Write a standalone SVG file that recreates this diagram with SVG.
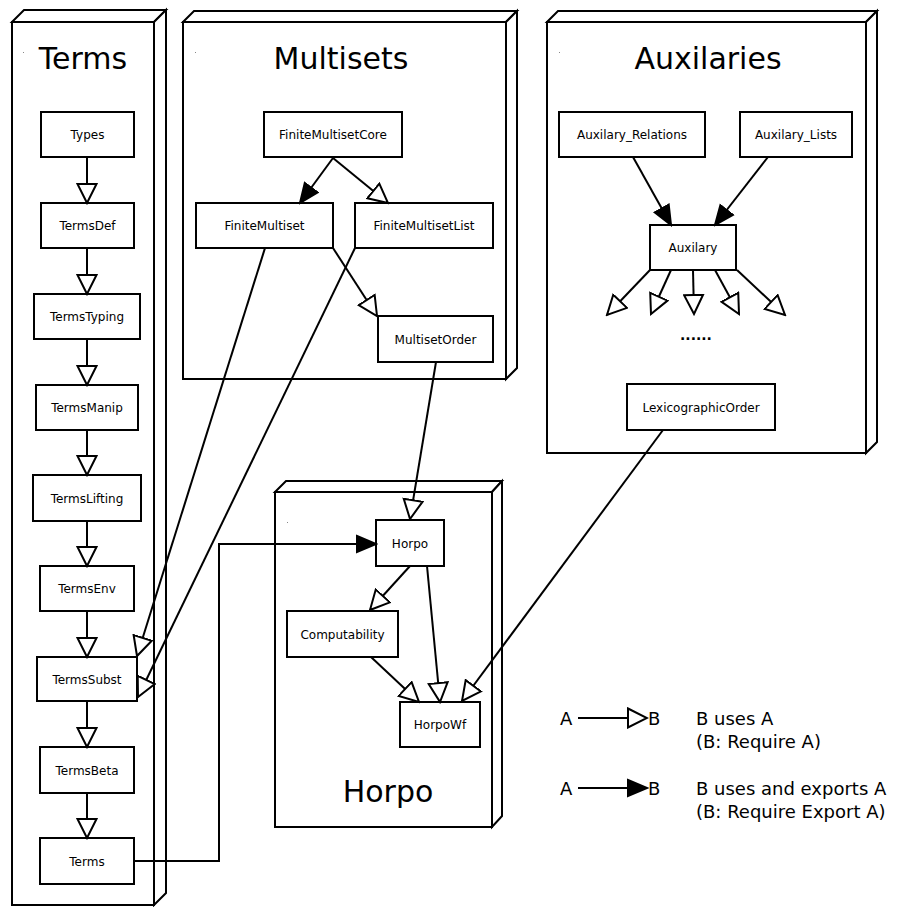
<svg xmlns="http://www.w3.org/2000/svg" width="898" height="907" viewBox="0 0 898 907">
<style>
.pkg{fill:#fff;stroke:#000;stroke-width:2;stroke-linejoin:miter}
.box{fill:#fff;stroke:#000;stroke-width:2}
.lbl{font-family:"DejaVu Sans",sans-serif;font-size:12px;text-anchor:middle;fill:#000}
.ttl{font-family:"DejaVu Sans",sans-serif;font-size:30px;text-anchor:middle;fill:#000}
.leg{font-family:"DejaVu Sans",sans-serif;font-size:18px;fill:#000}
.e{fill:none;stroke:#000;stroke-width:2}
.u{marker-end:url(#open)}
.x{marker-end:url(#fill)}
</style>
<defs>
<marker id="open" markerUnits="userSpaceOnUse" viewBox="0 0 22 22" markerWidth="22" markerHeight="22" refX="20" refY="11" orient="auto">
<path d="M1,1.5 L20,11 L1,20.5 Z" fill="#fff" stroke="#000" stroke-width="2"/>
</marker>
<marker id="fill" markerUnits="userSpaceOnUse" viewBox="0 0 22 22" markerWidth="22" markerHeight="22" refX="20" refY="11" orient="auto">
<path d="M1,3 L20,11 L1,19 Z" fill="#000" stroke="#000" stroke-width="2"/>
</marker>
</defs>
<rect width="898" height="907" fill="#fff"/>

<g id="pkg-terms">
<path class="pkg" d="M12,22 L24,10 L166,10 L154,22 Z"/>
<path class="pkg" d="M154,22 L166,10 L166,893 L154,905 Z"/>
<rect class="pkg" x="12" y="22" width="142" height="883"/>
<rect x="23" y="52" width="1" height="1" fill="#888"/>
<text class="ttl" x="83" y="69">Terms</text>
</g>
<g id="pkg-multisets">
<path class="pkg" d="M183,22 L194,11 L517,11 L506,22 Z"/>
<path class="pkg" d="M506,22 L517,11 L517,368 L506,379 Z"/>
<rect class="pkg" x="183" y="22" width="323" height="357"/>
<rect x="195" y="52" width="1" height="1" fill="#888"/>
<text class="ttl" x="341" y="69">Multisets</text>
</g>
<g id="pkg-auxilaries">
<path class="pkg" d="M547,22 L558,11 L877,11 L866,22 Z"/>
<path class="pkg" d="M866,22 L877,11 L877,442 L866,453 Z"/>
<rect class="pkg" x="547" y="22" width="319" height="431"/>
<rect x="559" y="52" width="1" height="1" fill="#888"/>
<text class="ttl" x="708" y="69">Auxilaries</text>
</g>
<g id="pkg-horpo">
<path class="pkg" d="M275,492 L286,481 L502,481 L492,492 Z"/>
<path class="pkg" d="M492,492 L502,481 L502,816 L492,827 Z"/>
<rect class="pkg" x="275" y="492" width="217" height="335"/>
<rect x="287" y="522" width="1" height="1" fill="#888"/>
<text class="ttl" x="388" y="802">Horpo</text>
</g>

<g id="n-types"><rect class="box" x="41" y="112" width="93" height="45"/><text class="lbl" x="87.5" y="139">Types</text></g>
<g id="n-termsdef"><rect class="box" x="41" y="203" width="93" height="45"/><text class="lbl" x="87.5" y="230">TermsDef</text></g>
<g id="n-termstyping"><rect class="box" x="34" y="294" width="106" height="45"/><text class="lbl" x="87" y="321">TermsTyping</text></g>
<g id="n-termsmanip"><rect class="box" x="36" y="385" width="102" height="45"/><text class="lbl" x="87" y="412">TermsManip</text></g>
<g id="n-termslifting"><rect class="box" x="33" y="475" width="108" height="46"/><text class="lbl" x="87" y="502.5">TermsLifting</text></g>
<g id="n-termsenv"><rect class="box" x="40" y="566" width="94" height="45"/><text class="lbl" x="87" y="593">TermsEnv</text></g>
<g id="n-termssubst"><rect class="box" x="37" y="657" width="100" height="44"/><text class="lbl" x="87" y="683.5">TermsSubst</text></g>
<g id="n-termsbeta"><rect class="box" x="40" y="747" width="94" height="46"/><text class="lbl" x="87" y="774.5">TermsBeta</text></g>
<g id="n-terms"><rect class="box" x="40" y="838" width="94" height="46"/><text class="lbl" x="87" y="865.5">Terms</text></g>

<g id="n-fmcore"><rect class="box" x="264" y="112" width="138" height="45"/><text class="lbl" x="333" y="139">FiniteMultisetCore</text></g>
<g id="n-fm"><rect class="box" x="196" y="203" width="137" height="45"/><text class="lbl" x="264.5" y="230">FiniteMultiset</text></g>
<g id="n-fmlist"><rect class="box" x="355" y="203" width="138" height="45"/><text class="lbl" x="424" y="230">FiniteMultisetList</text></g>
<g id="n-msorder"><rect class="box" x="378" y="316" width="115" height="46"/><text class="lbl" x="435.5" y="343.5">MultisetOrder</text></g>

<g id="n-auxrel"><rect class="box" x="559" y="112" width="146" height="45"/><text class="lbl" x="632" y="139">Auxilary_Relations</text></g>
<g id="n-auxlists"><rect class="box" x="740" y="112" width="112" height="45"/><text class="lbl" x="796" y="139">Auxilary_Lists</text></g>
<g id="n-aux"><rect class="box" x="650" y="225" width="86" height="45"/><text class="lbl" x="693" y="252">Auxilary</text></g>
<g id="n-lex"><rect class="box" x="627" y="384" width="148" height="46"/><text class="lbl" x="701" y="411.5">LexicographicOrder</text></g>

<g id="n-horpo"><rect class="box" x="376" y="520" width="68" height="46"/><text class="lbl" x="410" y="547.5">Horpo</text></g>
<g id="n-comp"><rect class="box" x="287" y="611" width="111" height="46"/><text class="lbl" x="342.5" y="638.5">Computability</text></g>
<g id="n-horpowf"><rect class="box" x="400" y="702" width="80" height="45"/><text class="lbl" x="440" y="729">HorpoWf</text></g>

<g id="connectors">
<line class="e u" x1="87" y1="157" x2="87" y2="203"/>
<line class="e u" x1="87" y1="248" x2="87" y2="294"/>
<line class="e u" x1="87" y1="339" x2="87" y2="385"/>
<line class="e u" x1="87" y1="430" x2="87" y2="475"/>
<line class="e u" x1="87" y1="521" x2="87" y2="566"/>
<line class="e u" x1="87" y1="611" x2="87" y2="657"/>
<line class="e u" x1="87" y1="701" x2="87" y2="747"/>
<line class="e u" x1="87" y1="793" x2="87" y2="838"/>

<line class="e x" x1="333" y1="158" x2="300" y2="203"/>
<line class="e u" x1="333" y1="158" x2="388" y2="203"/>
<line class="e u" x1="333" y1="248" x2="377" y2="316"/>
<line class="e u" x1="265" y1="248" x2="137" y2="656"/>
<line class="e u" x1="355" y1="248" x2="138" y2="697"/>
<line class="e u" x1="436" y1="362" x2="410" y2="519"/>

<line class="e x" x1="633" y1="157" x2="671" y2="225"/>
<line class="e x" x1="768" y1="157" x2="715" y2="225"/>
<line class="e u" x1="650" y1="270" x2="607" y2="315"/>
<line class="e u" x1="671" y1="270" x2="651" y2="314"/>
<line class="e u" x1="693" y1="270" x2="694" y2="314"/>
<line class="e u" x1="715" y1="270" x2="739" y2="314"/>
<line class="e u" x1="737" y1="270" x2="785" y2="315"/>
<line class="e u" x1="663" y1="430" x2="462" y2="701"/>

<polyline class="e x" points="134,861 219,861 219,544 376,544"/>
<line class="e u" x1="410" y1="566" x2="370" y2="610"/>
<line class="e u" x1="427" y1="566" x2="440" y2="702"/>
<line class="e u" x1="371" y1="657" x2="419" y2="702"/>
</g>

<text x="680" y="339.5" font-family="DejaVu Sans, sans-serif" font-weight="bold" font-size="14">......</text>

<g id="legend">
<text class="leg" x="560" y="725">A</text>
<line class="e u" x1="578" y1="718" x2="647" y2="718"/>
<text class="leg" x="648" y="725">B</text>
<text class="leg" x="696" y="725">B uses A</text>
<text class="leg" x="696" y="748">(B: Require A)</text>
<text class="leg" x="560" y="795">A</text>
<line class="e x" x1="578" y1="788" x2="647" y2="788"/>
<text class="leg" x="648" y="795">B</text>
<text class="leg" x="696" y="795">B uses and exports A</text>
<text class="leg" x="696" y="818">(B: Require Export A)</text>
</g>
</svg>
